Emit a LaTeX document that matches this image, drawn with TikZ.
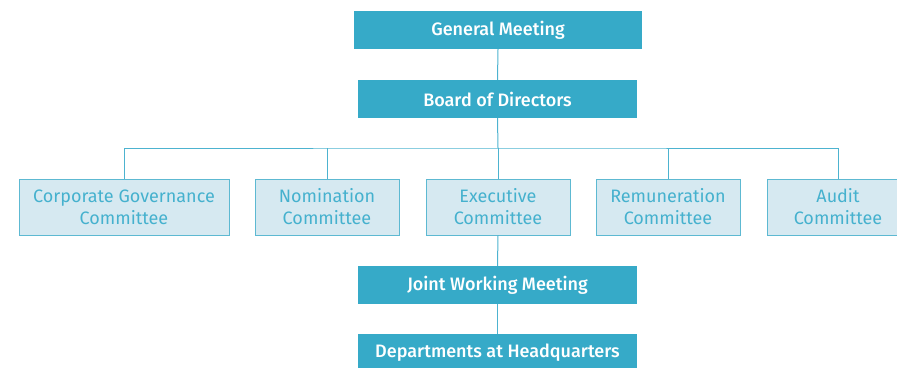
\documentclass[tikz,border=0pt]{standalone}
\usepackage{fontspec}
\setmainfont{Fira Sans}[BoldFont={Fira Sans Medium}]
\definecolor{dark}{HTML}{36AAC8}
\definecolor{lightfill}{HTML}{D6E9F1}
\definecolor{lightdraw}{HTML}{5DB9D2}
\definecolor{lighttext}{HTML}{45B1CE}
\definecolor{linec}{HTML}{4DB3D0}
\begin{document}
\begin{tikzpicture}[x=1pt,y=-1pt,
  darkbox/.style={fill=dark,draw=none,text=white,font=\fontsize{18}{20}\selectfont\bfseries,inner sep=0pt},
  lightbox/.style={fill=lightfill,draw=lightdraw,line width=0.9pt,text=lighttext,font=\fontsize{18}{22}\selectfont,align=center,inner sep=0pt},
  conn/.style={draw=linec,line width=1pt}]
\useasboundingbox (0,0) rectangle (897,367);
\clip (0,0) rectangle (897,367);
\node[darkbox,minimum width=288pt,minimum height=38pt] (gm) at (498,30) {General Meeting};
\node[darkbox,minimum width=279pt,minimum height=38pt] (bd) at (497.5,99) {Board of Directors};
\node[lightbox,minimum width=210pt,minimum height=56pt] (cg) at (124,207) {Corporate Governance\\Committee};
\node[lightbox,minimum width=144pt,minimum height=56pt] (nm) at (327,207) {Nomination\\Committee};
\node[lightbox,minimum width=144pt,minimum height=56pt] (ex) at (498,207) {Executive\\Committee};
\node[lightbox,minimum width=144pt,minimum height=56pt] (rm) at (668,207) {Remuneration\\Committee};
\node[lightbox,minimum width=142pt,minimum height=56pt] (au) at (838,207) {Audit\\Committee};
\node[darkbox,minimum width=279pt,minimum height=38pt] (jw) at (497.5,285) {Joint Working Meeting};
\node[darkbox,minimum width=279pt,minimum height=38pt] (dh) at (497.5,353) {Departments at Headquarters};
\coordinate (hb) at (498,148);
\draw[conn] (gm.south) -- (bd.north);
\draw[conn] (bd.south) -- (hb);
\draw[conn] (cg.north) |- (hb) -| (au.north);
\draw[conn] (nm.north) -- (nm.north |- hb);
\draw[conn] (rm.north) -- (rm.north |- hb);
\draw[conn] (hb) -- (ex.north);
\draw[conn] (ex.south) -- (jw.north);
\draw[conn] (jw.south) -- (dh.north);
\end{tikzpicture}
\end{document}
